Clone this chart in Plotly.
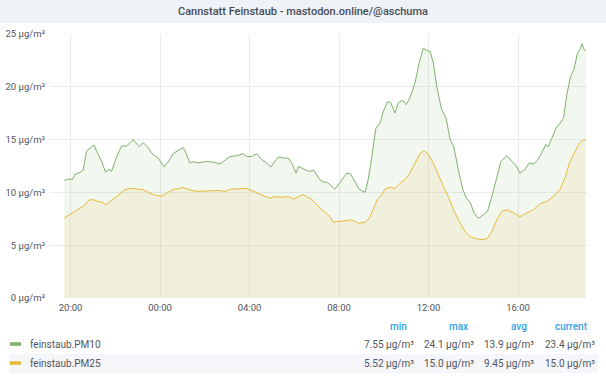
import pandas as pd
import plotly.graph_objects as go

# ---------------- data ----------------
BASE = pd.Timestamp("2023-03-14 20:00")          # first "20:00" tick
RANGE_START = BASE - pd.Timedelta(minutes=55)     # 24h window shown
RANGE_END = RANGE_START + pd.Timedelta(hours=24)

# minutes relative to 20:00 (day 1)
pm10_minutes = [-17, -1, 4, 12, 25, 34, 43, 52, 63, 70, 84, 94, 103, 110, 124, 137, 151, 168,
                184, 195, 206, 218, 235, 251, 262, 276, 289, 302, 310, 320, 329, 343, 365, 383,
                401, 414, 428, 446, 462, 472, 486, 499, 513, 526, 537, 548, 557, 571, 584, 593,
                605, 611, 624, 638, 653, 664, 674, 689, 709, 723, 741, 751, 763, 774, 790, 799,
                808, 819, 830, 839, 851, 859, 870, 879, 891, 900, 910, 924, 935, 946, 955, 964,
                973, 982, 995, 1007, 1018, 1028, 1040, 1052, 1062, 1073, 1082, 1094, 1107, 1118,
                1130, 1143, 1154, 1170, 1183, 1195, 1205, 1219, 1230, 1241, 1252, 1264, 1275,
                1281, 1290, 1302, 1313, 1322, 1331, 1341, 1350, 1359, 1366, 1372, 1377, 1382]
pm10_values = [11.13, 11.3, 11.2, 11.7, 11.9, 12.1, 13.9, 14.2, 14.5, 13.9, 12.9, 11.9, 12.2,
               12.0, 13.4, 14.4, 14.4, 15.0, 14.35, 14.7, 14.35, 13.7, 13.25, 12.4, 12.9, 13.7,
               13.95, 14.26, 13.7, 12.8, 12.9, 12.8, 12.93, 12.87, 12.7, 13.0, 13.4, 13.47,
               13.66, 13.4, 13.4, 13.66, 13.1, 12.78, 12.4, 12.93, 13.35, 13.25, 13.25, 12.78,
               11.83, 12.46, 12.2, 12.0, 12.08, 11.45, 11.03, 10.94, 10.3, 10.94, 11.83, 11.76,
               10.94, 10.3, 10.0, 11.35, 13.4, 16.1, 16.57, 17.7, 18.6, 18.5, 17.5, 18.5, 18.7,
               18.3, 18.95, 20.4, 22.27, 23.65, 23.46, 23.37, 22.27, 20.05, 17.84, 17.05, 15.0,
               14.3, 12.14, 10.25, 9.46, 8.98, 8.04, 7.55, 7.87, 8.19, 9.61, 11.5, 12.93, 13.47,
               12.93, 12.52, 11.83, 12.2, 12.78, 12.68, 13.03, 13.88, 14.52, 14.3, 15.0, 16.1,
               16.57, 17.05, 19.26, 21.0, 21.63, 23.15, 23.53, 24.1, 23.53, 23.4]

pm25_minutes = [-17, -1, 12, 25, 36, 50, 61, 72, 84, 95, 106, 119, 133, 146, 160, 178, 195, 213,
                231, 245, 258, 276, 289, 302, 316, 329, 347, 374, 396, 414, 428, 450, 468, 481,
                499, 517, 535, 548, 566, 584, 599, 611, 623, 633, 647, 660, 674, 687, 696, 705,
                723, 741, 754, 772, 790, 803, 812, 823, 835, 843, 857, 870, 884, 897, 910, 924,
                937, 948, 960, 973, 986, 1000, 1013, 1027, 1045, 1058, 1071, 1089, 1107, 1118,
                1130, 1143, 1156, 1170, 1187, 1205, 1223, 1241, 1259, 1277, 1295, 1313, 1326,
                1339, 1353, 1366, 1375, 1382]
pm25_values = [7.56, 7.87, 8.2, 8.5, 8.73, 9.3, 9.3, 9.17, 9.08, 8.82, 9.14, 9.46, 9.87, 10.25,
               10.4, 10.34, 10.25, 9.93, 9.7, 9.65, 9.93, 10.3, 10.34, 10.46, 10.3, 10.15, 10.1,
               10.12, 10.18, 10.1, 10.3, 10.34, 10.4, 10.25, 9.93, 9.68, 9.46, 9.6, 9.55, 9.6,
               9.36, 9.6, 9.8, 9.6, 9.36, 8.82, 8.35, 7.94, 7.7, 7.18, 7.27, 7.33, 7.4, 7.08,
               7.18, 7.65, 8.5, 9.36, 9.77, 10.3, 10.5, 10.34, 10.88, 11.2, 11.83, 12.78, 13.66,
               13.95, 13.57, 12.78, 11.67, 10.56, 9.61, 8.35, 7.08, 6.29, 5.82, 5.6, 5.52, 5.66,
               6.29, 7.4, 8.19, 8.35, 8.1, 7.7, 8.04, 8.35, 8.92, 9.14, 9.61, 10.3, 11.35, 12.93,
               13.88, 14.73, 14.92, 15.0]

series_names = ["feinstaub.PM10", "feinstaub.PM25"]
series_colors = ["#7eb26d", "#eab839"]
series_fills = ["rgba(126,178,109,0.10)", "rgba(234,184,57,0.10)"]
stat_headers = ["min", "max", "avg", "current"]
pm10_stats = ["7.55 µg/m³", "24.1 µg/m³", "13.9 µg/m³", "23.4 µg/m³"]
pm25_stats = ["5.52 µg/m³", "15.0 µg/m³", "9.45 µg/m³", "15.0 µg/m³"]
y_ticks = [0, 5, 10, 15, 20, 25]
y_tick_labels = ["0 µg/m³", "5 µg/m³", "10 µg/m³", "15 µg/m³", "20 µg/m³", "25 µg/m³"]
title_text = "Cannstatt Feinstaub - mastodon.online/@aschuma"

# ---------------- layout helpers ----------------
W, H = 606, 379
L, R, T, B = 50, 19, 34, 81
PW, PH = W - L - R, H - T - B
FONT = "Roboto"
TXT = "#52545c"


def px(x):
    return (x - L) / PW


def py(y):
    return (H - B - y) / PH


fig = go.Figure()
all_minutes = [pm10_minutes, pm25_minutes]
all_values = [pm10_values, pm25_values]
for name, mins, vals, col, fc in zip(series_names, all_minutes, all_values, series_colors, series_fills):
    fig.add_trace(go.Scatter(
        x=[BASE + pd.Timedelta(minutes=m) for m in mins], y=vals, name=name,
        mode="lines", line=dict(color=col, width=1), fill="tozeroy", fillcolor=fc,
        opacity=0.9, showlegend=False))

annotations = [dict(text=title_text, x=px(303), y=py(11.5), xref="paper", yref="paper",
                    showarrow=False, xanchor="center", yanchor="middle",
                    font=dict(family=FONT, size=11, color="#464c54", weight=500))]
shapes = [dict(type="rect", xref="paper", yref="paper", x0=px(0), x1=px(W), y0=py(23), y1=py(0),
               fillcolor="#eff2f6", line=dict(width=0), layer="below"),
          dict(type="rect", xref="paper", yref="paper", x0=px(9), x1=px(598), y0=py(373), y1=py(354),
               fillcolor="#f5f6f9", line=dict(width=0), layer="below")]

header_right = [409, 470, 529, 590]
value_right = [416, 476, 536, 597]
for h, xr in zip(stat_headers, header_right):
    annotations.append(dict(text=h, x=px(xr), y=py(326), xref="paper", yref="paper",
                            showarrow=False, xanchor="right", yanchor="middle",
                            font=dict(family=FONT, size=10, color="#33a2e5", weight=500)))

row_y = [344, 363]
for name, col, stats, ry in zip(series_names, series_colors, [pm10_stats, pm25_stats], row_y):
    shapes.append(dict(type="line", xref="paper", yref="paper", x0=px(10), x1=px(21),
                       y0=py(ry), y1=py(ry), line=dict(color=col, width=3.5)))
    annotations.append(dict(text=name, x=px(28), y=py(ry), xref="paper", yref="paper",
                            showarrow=False, xanchor="left", yanchor="middle",
                            font=dict(family=FONT, size=10, color=TXT)))
    for s, xr in zip(stats, value_right):
        annotations.append(dict(text=s, x=px(xr), y=py(ry), xref="paper", yref="paper",
                                showarrow=False, xanchor="right", yanchor="middle",
                                font=dict(family=FONT, size=10, color=TXT)))

fig.update_layout(
    width=W, height=H, margin=dict(l=L, r=R, t=T, b=B, pad=0),
    paper_bgcolor="white", plot_bgcolor="white",
    font=dict(family=FONT, size=9.5, color=TXT),
    annotations=annotations, shapes=shapes, hovermode=False,
    xaxis=dict(range=[RANGE_START, RANGE_END], type="date", tickformat="%H:%M",
               tick0=BASE, dtick=4 * 3600 * 1000, showgrid=True, gridcolor="#ebebeb",
               gridwidth=1, zeroline=False, showline=False, ticks="", ticklabelstandoff=2,
               tickfont=dict(family=FONT, size=9.5, color=TXT), fixedrange=True),
    yaxis=dict(range=[0, 25], tickvals=y_ticks, ticktext=y_tick_labels, showgrid=True,
               gridcolor="#ebebeb", gridwidth=1, zeroline=False, showline=False, ticks="",
               ticklabelstandoff=4, tickfont=dict(family=FONT, size=9.5, color=TXT),
               automargin=False, fixedrange=True),
)

fig.write_html("out.html")
